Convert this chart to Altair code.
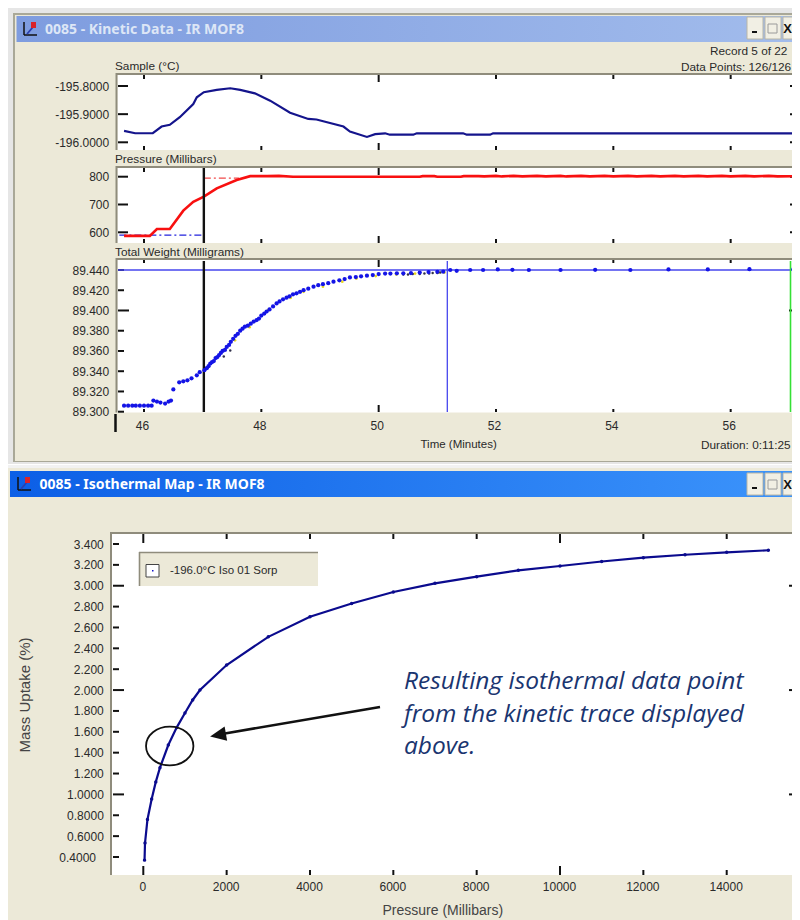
import altair as alt

# ---------- data ----------
sample_t = [45.66,45.85,46.15,46.30,46.44,46.61,46.84,46.90,47.02,47.24,47.47,47.64,47.89,48.15,48.49,48.80,48.94,49.40,49.51,49.80,49.94,50.11,50.19,50.59,50.65,51.44,51.50,51.90,51.95,57.08]
sample_v = [-195.9596,-195.9678,-195.9678,-195.944,-195.938,-195.911,-195.864,-195.84,-195.822,-195.814,-195.808,-195.814,-195.826,-195.852,-195.895,-195.917,-195.919,-195.944,-195.962,-195.981,-195.971,-195.968,-195.973,-195.973,-195.968,-195.968,-195.973,-195.973,-195.968,-195.968]

press_t = [45.66,46.10,46.22,46.44,46.67,46.84,47.02,47.24,47.58,47.81,48.10,48.30,48.54,50.70,50.75,50.95,51.00,51.40,51.45,51.70,51.80,52.00,52.10,52.30,52.45,52.70,52.85,53.10,53.20,53.45,53.60,53.85,54.00,54.25,54.40,54.65,54.80,55.05,55.20,55.45,55.60,55.85,56.00,56.25,56.40,56.65,56.80,57.08]
press_v = [587,587,612,612,678,710,728,758,788,802,802,803,800,800,802,802,800,800,802,802,801,803,801,803,801,803,801,803,801,803,801,803,801,803,801,803,801,803,801,803,801,803,801,803,801,803,801,802]

weight_t = [45.66,45.73,45.80,45.86,45.93,46.00,46.07,46.13,46.16,46.22,46.28,46.36,46.42,46.46,46.50,46.60,46.67,46.74,46.81,46.90,46.95,47.03,47.07,47.10,47.13,47.16,47.19,47.22,47.25,47.28,47.31,47.34,47.38,47.41,47.45,47.48,47.52,47.56,47.60,47.64,47.68,47.72,47.77,47.82,47.87,47.92,47.96,48.00,48.05,48.09,48.14,48.20,48.26,48.31,48.37,48.43,48.48,48.54,48.60,48.66,48.72,48.80,48.89,48.97,49.05,49.14,49.23,49.33,49.42,49.51,49.61,49.70,49.80,49.90,50.00,50.11,50.20,50.31,50.42,50.55,50.70,50.85,51.00,51.10,51.22,51.33,51.56,51.78,52.03,52.28,52.56,53.10,53.69,54.29,54.94,55.61,56.32,57.07,57.10]
weight_v = [89.306,89.306,89.306,89.306,89.306,89.306,89.306,89.306,89.311,89.310,89.309,89.308,89.310,89.311,89.322,89.329,89.330,89.331,89.333,89.336,89.339,89.341,89.343,89.345,89.3476,89.349,89.350,89.353,89.354,89.356,89.358,89.360,89.361,89.364,89.366,89.369,89.372,89.375,89.377,89.380,89.382,89.384,89.385,89.387,89.389,89.3905,89.392,89.395,89.397,89.399,89.401,89.404,89.407,89.409,89.411,89.4126,89.414,89.416,89.417,89.4185,89.420,89.4215,89.4235,89.425,89.426,89.427,89.4284,89.4298,89.431,89.4327,89.433,89.4338,89.4344,89.435,89.436,89.4365,89.4365,89.4367,89.4367,89.437,89.4375,89.438,89.4382,89.4383,89.440,89.4392,89.440,89.440,89.4405,89.4402,89.440,89.440,89.4402,89.440,89.4405,89.4405,89.4408,89.4408,89.4395]

yellow_t = [47.55,47.80,48.12,48.50,48.72,49.05,49.38,49.62,49.95,50.30,50.62,51.02,51.12]
yellow_v = [89.3705,89.3835,89.4005,89.4125,89.4185,89.4235,89.4285,89.4315,89.434,89.4355,89.4365,89.4375,89.4375]
dark_t = [47.36,47.47,50.42,50.50,50.58,50.70,50.78,50.86,50.92,51.00,51.05]
dark_v = [89.3545,89.3605,89.4355,89.4355,89.436,89.436,89.4365,89.4365,89.437,89.437,89.4375]

iso_p = [30,41,100,201,300,400,600,800,1000,1185,1360,2000,3000,4000,5000,6000,7000,8000,9000,10000,11000,12000,13000,14000,15000]
iso_v = [0.37,0.534,0.76,0.956,1.12,1.256,1.473,1.64,1.78,1.905,2.00,2.24,2.51,2.703,2.83,2.94,3.023,3.087,3.148,3.189,3.232,3.269,3.297,3.32,3.34]

sample_ticks = [-196.0,-195.9,-195.8]
press_ticks = [600,700,800]
weight_ticks = [89.30,89.32,89.34,89.36,89.38,89.40,89.42,89.44]
weight_major = [89.40]
time_ticks = [46,48,50,52,54,56]
time_major = [50]
iso_ticks = [0.4,0.6,0.8,1.0,1.2,1.4,1.6,1.8,2.0,2.2,2.4,2.6,2.8,3.0,3.2,3.4]
iso_major = [1.0,2.0,3.0]
pres_ticks = [0,2000,4000,6000,8000,10000,12000,14000]
pres_major = [0,10000]

CREAM = "#ECE9D8"
EDGE = "#8f8c7c"
LABEL = "#2a2a2a"
FONT = "Liberation Sans"
W, H = 784, 912


def X(v):
    return alt.value(v - 8)


def Y(v):
    return alt.value(v - 8)


ONE = alt.Data(values=[{"k": 0}])
layers = []


def rect(x0, y0, x1, y1, fill, **kw):
    layers.append(alt.Chart(ONE).mark_rect(color=fill, **kw).encode(x=X(x0), x2=X(x1), y=Y(y0), y2=Y(y1)))


def seg(x0, y0, x1, y1, color, width=1.0, **kw):
    layers.append(alt.Chart(ONE).mark_rule(color=color, strokeWidth=width, **kw).encode(x=X(x0), x2=X(x1), y=Y(y0), y2=Y(y1)))


def text(s, x, y, size=11.8, color=LABEL, align="left", font=FONT, **kw):
    layers.append(alt.Chart(ONE).mark_text(align=align, baseline="middle", fontSize=size, font=font, color=color, **kw)
                  .encode(x=X(x), y=Y(y), text=alt.value(s)))


def lin(domain, r0, r1):
    return alt.Scale(domain=domain, range=[r0 - 8, r1 - 8], nice=False, zero=False, clamp=False)


TIME = lin([46, 58], 144, 848)
PRES = lin([0, 14000], 143.3, 726.7)
S_Y = lin([-196.0, -195.8], 142.3, 86)
P_Y = lin([600, 800], 232.3, 176.7)
W_Y = lin([89.30, 89.44], 411.7, 270)
I_Y = lin([0.4, 3.4], 857, 544)


def rows(**cols):
    keys = list(cols)
    return alt.Data(values=[dict(zip(keys, v)) for v in zip(*cols.values())])


def yticks(values, scale, x0, major, minor_len, major_len, right):
    maj = set(major)
    d_min = [v for v in values if v not in maj]
    d_maj = [v for v in values if v in maj]
    for group, ln in ((d_min, minor_len), (d_maj, major_len)):
        if group:
            layers.append(alt.Chart(alt.Data(values=[{"v": v} for v in group])).mark_rule(color="#111", strokeWidth=2)
                          .encode(y=alt.Y("v:Q", scale=scale, axis=None), x=X(x0), x2=X(x0 + ln)))
            layers.append(alt.Chart(alt.Data(values=[{"v": v} for v in group])).mark_rule(color="#111", strokeWidth=2)
                          .encode(y=alt.Y("v:Q", scale=scale, axis=None), x=X(right - ln), x2=X(right)))


def ylabels(values, scale, label_x, expr, size=12):
    layers.append(alt.Chart(alt.Data(values=[{"v": v} for v in values])).mark_rule(opacity=0)
                  .encode(y=alt.Y("v:Q", scale=scale,
                                  axis=alt.Axis(values=values, labelExpr=expr, title=None, orient="left", zindex=1,
                                                offset=-(label_x - 8), domain=False, ticks=False, tickSize=0,
                                                grid=False, labelPadding=0, labelFont=FONT, labelFontSize=size,
                                                labelColor=LABEL, labelOverlap=False, labelFlush=False, labelBound=False)),
                          x=X(100), x2=X(101)))


def xticks(values, scale, major, top, bottom, minor_len, major_len):
    maj = set(major)
    d_min = [v for v in values if v not in maj]
    d_maj = [v for v in values if v in maj]
    for group, ln in ((d_min, minor_len), (d_maj, major_len)):
        if group:
            for a, b in ((top, top + ln), (bottom - ln, bottom)):
                layers.append(alt.Chart(alt.Data(values=[{"v": v} for v in group])).mark_rule(color="#111", strokeWidth=2)
                              .encode(x=alt.X("v:Q", scale=scale, axis=None), y=Y(a), y2=Y(b)))


def xlabels(values, scale, axis_y, pad, expr="format(datum.value,'d')", shift=-2):
    layers.append(alt.Chart(alt.Data(values=[{"v": v} for v in values])).mark_rule(opacity=0)
                  .encode(x=alt.X("v:Q", scale=scale,
                                  axis=alt.Axis(values=values, labelExpr=expr, title=None, orient="bottom", zindex=1,
                                                offset=-(H - (axis_y - 8)), domain=False, ticks=False, tickSize=0,
                                                grid=False, labelPadding=pad, labelFont=FONT, labelFontSize=12,
                                                labelColor=LABEL, labelOverlap=False, labelFlush=False, labelBound=False,
                                                labelOffset=shift)),
                          y=Y(10), y2=Y(11)))


def titlebar(x0, y0, y1, c0, c1, title, tcolor, tx):
    grad = alt.LinearGradient(gradient="linear",
                              stops=[alt.GradientStop(color=c0, offset=0), alt.GradientStop(color=c1, offset=1)],
                              x1=0, x2=1, y1=0, y2=0)
    rect(x0, y0, 800, y1, grad)
    text(title, tx, (y0 + y1) / 2 + 0.5, size=14, color=tcolor, font="Noto Sans", fontWeight="bold")


def icon(dx, dy):
    seg(24 + dx, 22 + dy, 24 + dx, 35 + dy, "#111", 1.5)
    seg(24 + dx, 35 + dy, 37 + dx, 35 + dy, "#111", 1.5)
    seg(27 + dx, 34 + dy, 33 + dx, 27 + dy, "#2a3fb0", 1.8)
    rect(31 + dx, 22 + dy, 36 + dx, 28 + dy, "#d8232a")


def buttons(dy):
    rect(747, 17 + dy, 763, 39 + dy, "#f1efe4", stroke="#b9b6a6", strokeWidth=1)
    seg(752, 32 + dy, 757, 32 + dy, "#111", 2)
    rect(765, 17 + dy, 781, 39 + dy, "#f1efe4", stroke="#b9b6a6", strokeWidth=1)
    rect(768, 24 + dy, 777, 33 + dy, "#f1efe4", stroke="#9a9a9a", strokeWidth=1)
    rect(783, 17 + dy, 802, 39 + dy, "#f1efe4", stroke="#b9b6a6", strokeWidth=1)
    text("X", 787.5, 28.5 + dy, size=13, color="#111", align="center", fontWeight="bold")


def panel(x0, y0, y1):
    rect(x0, y0, 800, y1, "white")
    seg(x0 - 1, y0 - 1, 800, y0 - 1, EDGE, 2)
    seg(x0 - 1, y0 - 2, x0 - 1, y1, EDGE, 2)


# ---------- window chrome ----------
rect(8, 8, 800, 464, "#e6e6e6")
rect(13, 13, 800, 462, "#a9a898")
rect(15, 15, 800, 461, CREAM)
rect(8, 465, 800, 920, "#f2f2f2")
rect(8, 468, 800, 920, CREAM)
titlebar(16.5, 16, 42, "#7e9cdf", "#a2bcec", "0085 - Kinetic Data - IR MOF8", "#dde6f6", 45)
titlebar(10, 471, 497, "#0c5fe6", "#3c94fb", "0085 - Isothermal Map - IR MOF8", "white", 39.5)
icon(0, 0)
icon(-6, 455)
buttons(0)
buttons(456)

text("Record 5 of 22", 710, 51)
text("Data Points: 126/126", 681, 66.5)
text("Sample (°C)", 115, 65.5)
text("Pressure (Millibars)", 115, 159)
text("Total Weight (Milligrams)", 115, 251.5)
text("Time (Minutes)", 420.5, 444.5, size=11.5)
text("Duration: 0:11:25", 701, 444.5)

panel(117.5, 75, 150)
panel(117.5, 168, 243)
panel(117.5, 260, 412.5)
panel(112, 534, 875)

# ---------- kinetic panels ----------
yticks(sample_ticks, S_Y, 118, [], 10, 10, 800)
ylabels(sample_ticks, S_Y, 108.7, "'-'+format(abs(datum.value),'.4f')")
yticks(press_ticks, P_Y, 118, [], 10, 10, 800)
ylabels(press_ticks, P_Y, 108.7, "format(datum.value,'d')")
yticks(weight_ticks, W_Y, 118, weight_major, 6, 11, 800)
ylabels(weight_ticks, W_Y, 108.7, "format(datum.value,'.3f')")

xticks(time_ticks, TIME, time_major, 75, 150, 4, 7)
xticks(time_ticks, TIME, time_major, 168, 243, 4, 7)
xticks(time_ticks, TIME, time_major, 260, 412, 3, 7)
xlabels(time_ticks, TIME, 413, 7)
seg(115.5, 414, 115.5, 432, "#111", 2.5)

layers.append(alt.Chart(rows(t=sample_t, v=sample_v)).mark_line(color="#14148c", strokeWidth=2.2)
              .encode(x=alt.X("t:Q", scale=TIME, axis=None), y=alt.Y("v:Q", scale=S_Y, axis=None)))
layers.append(alt.Chart(rows(t=[47.02, 47.62], v=[795, 795])).mark_line(color="#f04a4a", strokeWidth=1.2, strokeDash=[7, 3, 2, 3])
              .encode(x=alt.X("t:Q", scale=TIME, axis=None), y=alt.Y("v:Q", scale=P_Y, axis=None)))
layers.append(alt.Chart(rows(t=[45.58, 47.02], v=[590, 590])).mark_line(color="#2222dd", strokeWidth=1.2, strokeDash=[7, 3, 2, 3])
              .encode(x=alt.X("t:Q", scale=TIME, axis=None), y=alt.Y("v:Q", scale=P_Y, axis=None)))
layers.append(alt.Chart(rows(t=press_t, v=press_v)).mark_line(color="#f81010", strokeWidth=2.6)
              .encode(x=alt.X("t:Q", scale=TIME, axis=None), y=alt.Y("v:Q", scale=P_Y, axis=None)))

layers.append(alt.Chart(alt.Data(values=[{"v": 89.44}])).mark_rule(color="#4646ee", strokeWidth=1.6)
              .encode(y=alt.Y("v:Q", scale=W_Y, axis=None), x=X(118), x2=X(800)))
layers.append(alt.Chart(alt.Data(values=[{"t": 51.17}])).mark_rule(color="#4646ee", strokeWidth=1.3)
              .encode(x=alt.X("t:Q", scale=TIME, axis=None), y=Y(261), y2=Y(412)))
layers.append(alt.Chart(alt.Data(values=[{"t": 57.02}])).mark_rule(color="#35e035", strokeWidth=1.6)
              .encode(x=alt.X("t:Q", scale=TIME, axis=None), y=Y(261), y2=Y(412)))
for a, b in ((168, 243), (261, 412)):
    layers.append(alt.Chart(alt.Data(values=[{"t": 47.02}])).mark_rule(color="#111", strokeWidth=2.4)
                  .encode(x=alt.X("t:Q", scale=TIME, axis=None), y=Y(a), y2=Y(b)))
for tt, vv, col, sz in ((yellow_t, yellow_v, "#e8d820", 8), (dark_t, dark_v, "#30304a", 6), (weight_t, weight_v, "#1414e6", 18)):
    layers.append(alt.Chart(rows(t=tt, v=vv)).mark_point(color=col, filled=True, opacity=1, size=sz, shape="circle")
                  .encode(x=alt.X("t:Q", scale=TIME, axis=None), y=alt.Y("v:Q", scale=W_Y, axis=None)))

# ---------- isothermal panel ----------
yticks(iso_ticks, I_Y, 113, iso_major, 6, 11, 800)
ylabels([v for v in iso_ticks if v != 0.4], I_Y, 103.3,
        "datum.value<1.1?format(datum.value,'.4f'):format(datum.value,'.3f')")
ylabels([0.4], I_Y, 95.5, "format(datum.value,'.4f')")
xticks(pres_ticks, PRES, pres_major, 534, 875, 5, 9)
xlabels(pres_ticks, PRES, 875, 6, shift=-1)
layers.append(alt.Chart(rows(p=iso_p, v=iso_v)).mark_line(color="#0b0b8e", strokeWidth=2.2)
              .encode(x=alt.X("p:Q", scale=PRES, axis=None), y=alt.Y("v:Q", scale=I_Y, axis=None)))
layers.append(alt.Chart(rows(p=iso_p, v=iso_v)).mark_point(color="#0b0b8e", filled=True, opacity=1, size=12, shape="circle")
              .encode(x=alt.X("p:Q", scale=PRES, axis=None), y=alt.Y("v:Q", scale=I_Y, axis=None)))

text("Pressure (Millibars)", 382.5, 910.5, size=14, color="#444")
layers.append(alt.Chart(ONE).mark_text(align="center", baseline="middle", fontSize=15, font=FONT, color="#444", angle=270)
              .encode(x=X(25), y=Y(695), text=alt.value("Mass Uptake (%)")))

# legend box
rect(139.5, 552, 318, 586, CREAM)
seg(139, 552.5, 318, 552.5, EDGE, 1.6)
seg(139.5, 552, 139.5, 586, EDGE, 1.6)
rect(146, 564.5, 159, 577, "white", stroke="#444", strokeWidth=1)
rect(152, 570, 153.5, 571.5, "#1414c8")
text("-196.0°C Iso 01 Sorp", 170, 570.5, size=11.5)

# annotation
layers.append(alt.Chart(alt.Data(values=[{"p": 634, "v": 1.464}]))
              .mark_point(shape="M-1,0A1,0.82,0,1,1,1,0A1,0.82,0,1,1,-1,0Z", size=2247, filled=False, opacity=1,
                          color="#111", strokeWidth=1.8)
              .encode(x=alt.X("p:Q", scale=PRES, axis=None), y=alt.Y("v:Q", scale=I_Y, axis=None)))
seg(222, 734, 380, 707, "#111", 2.6)
layers.append(alt.Chart(ONE).mark_point(shape="M-1,0L1,-0.9L1,0.9Z", size=256, filled=True, opacity=1, color="#111", angle=350)
              .encode(x=X(218), y=Y(735)))
for s, yy in (("Resulting isothermal data point", 682), ("from the kinetic trace displayed", 715), ("above.", 747)):
    text(s, 404, yy, size=24.5, color="#1a3570", font="Open Sans", fontStyle="italic")

chart = (alt.layer(*layers)
         .resolve_scale(x="independent", y="independent")
         .properties(width=W, height=H, padding=0, background="white",
                     autosize=alt.AutoSizeParams(type="none"))
         .configure_view(stroke=None))

chart.save("out.html", embed_options={"renderer": "svg", "actions": False})
